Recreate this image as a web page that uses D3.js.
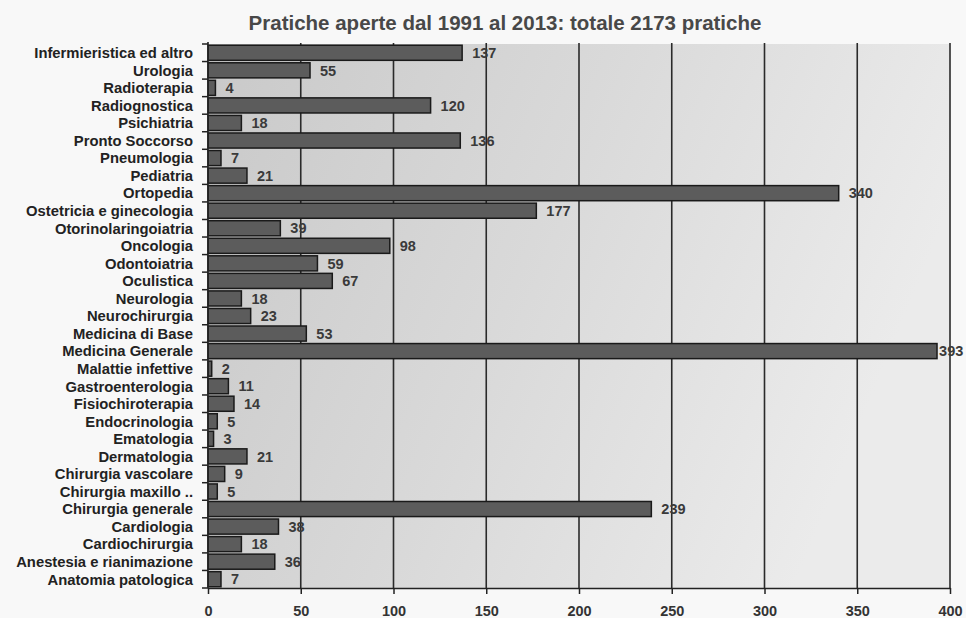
<!DOCTYPE html>
<html><head><meta charset="utf-8">
<script src="https://cdn.jsdelivr.net/npm/d3@7"></script>
<style>
html,body{margin:0;padding:0;background:#f8f8f8;}
svg{display:block;}
</style></head>
<body>
<svg id="chart" width="966" height="618"></svg>
<script>
const categories = ["Infermieristica ed altro","Urologia","Radioterapia","Radiognostica","Psichiatria","Pronto Soccorso","Pneumologia","Pediatria","Ortopedia","Ostetricia e ginecologia","Otorinolaringoiatria","Oncologia","Odontoiatria","Oculistica","Neurologia","Neurochirurgia","Medicina di Base","Medicina Generale","Malattie infettive","Gastroenterologia","Fisiochiroterapia","Endocrinologia","Ematologia","Dermatologia","Chirurgia vascolare","Chirurgia maxillo ..","Chirurgia generale","Cardiologia","Cardiochirurgia","Anestesia e rianimazione","Anatomia patologica"];
const values = [137,55,4,120,18,136,7,21,340,177,39,98,59,67,18,23,53,393,2,11,14,5,3,21,9,5,239,38,18,36,7];
const xTicks = [0,50,100,150,200,250,300,350,400];
const title = "Pratiche aperte dal 1991 al 2013: totale 2173 pratiche";

const svg = d3.select("#chart");
const m = {left:208, right:950, top:44, bottom:588};
const x = d3.scaleLinear().domain([0,400]).range([m.left, m.right]);
const y = d3.scaleBand().domain(categories).range([m.top, m.bottom]).paddingInner(0.14).paddingOuter(0.07);
const font = "'Liberation Sans','Arial',sans-serif";

const defs = svg.append("defs");
const g1 = defs.append("linearGradient").attr("id","bg").attr("x1","0").attr("x2","1").attr("y1","0").attr("y2","0.3");
g1.append("stop").attr("offset","0").attr("stop-color","#c9c9c9");
g1.append("stop").attr("offset","0.5").attr("stop-color","#d9d9d9");
g1.append("stop").attr("offset","1").attr("stop-color","#ebebeb");

svg.append("rect").attr("x",m.left).attr("y",m.top).attr("width",m.right-m.left).attr("height",m.bottom-m.top).attr("fill","url(#bg)");

// grid lines
svg.append("g").selectAll("line").data(xTicks.slice(1)).join("line")
  .attr("x1",d=>x(d)).attr("x2",d=>x(d)).attr("y1",m.top-1).attr("y2",m.bottom)
  .attr("stroke","#2a2a2a").attr("stroke-width",1.6);

// bars
svg.append("g").selectAll("rect").data(values).join("rect")
  .attr("x",x(0)).attr("y",(d,i)=>y(categories[i]))
  .attr("width",d=>x(d)-x(0)).attr("height",y.bandwidth())
  .attr("fill","#5c5c5c").attr("stroke","#1a1a1a").attr("stroke-width",1.5);

// value labels
svg.append("g").selectAll("text").data(values).join("text")
  .attr("x",d=>Math.min(x(d)+10, 964 - String(d).length*8.3))
  .attr("y",(d,i)=>y(categories[i])+y.bandwidth()/2)
  .attr("dy","0.36em").text(d=>d)
  .attr("font-family",font).attr("font-weight","bold").attr("font-size",14.5).attr("fill","#3a3a3a");

// left axis
const yAxis = svg.append("g").attr("transform",`translate(${m.left},0)`);
yAxis.append("line").attr("x1",0).attr("x2",0).attr("y1",m.top-2).attr("y2",m.bottom).attr("stroke","#222").attr("stroke-width",1.6);
const bounds = d3.range(categories.length+1).map(i=>m.top + (m.bottom-m.top)*i/categories.length);
yAxis.selectAll("line.tk").data(bounds).join("line").attr("class","tk")
  .attr("x1",-6).attr("x2",0).attr("y1",d=>d).attr("y2",d=>d).attr("stroke","#222").attr("stroke-width",1.5);
yAxis.selectAll("text").data(categories).join("text")
  .attr("x",-15).attr("y",d=>y(d)+y.bandwidth()/2).attr("dy","0.36em")
  .attr("text-anchor","end").text(d=>d)
  .attr("font-family",font).attr("font-weight","bold").attr("font-size",14.8).attr("fill","#222");

// bottom axis
const xAxis = svg.append("g").attr("transform",`translate(0,${m.bottom})`)
  .call(d3.axisBottom(x).tickValues(xTicks).tickSize(6).tickPadding(12).tickSizeOuter(0));
xAxis.select(".domain").attr("stroke","#222").attr("stroke-width",1.6);
xAxis.selectAll(".tick line").attr("stroke","#222").attr("stroke-width",1.5);
xAxis.selectAll("text").attr("font-family",font)
  .attr("font-weight","bold").attr("font-size",14.5).attr("fill","#333");

// title
svg.append("text").attr("x",505).attr("y",30).attr("text-anchor","middle").text(title)
  .attr("font-family",font).attr("font-weight","bold")
  .attr("font-size",20.5).attr("fill","#484848");
</script>
</body></html>
